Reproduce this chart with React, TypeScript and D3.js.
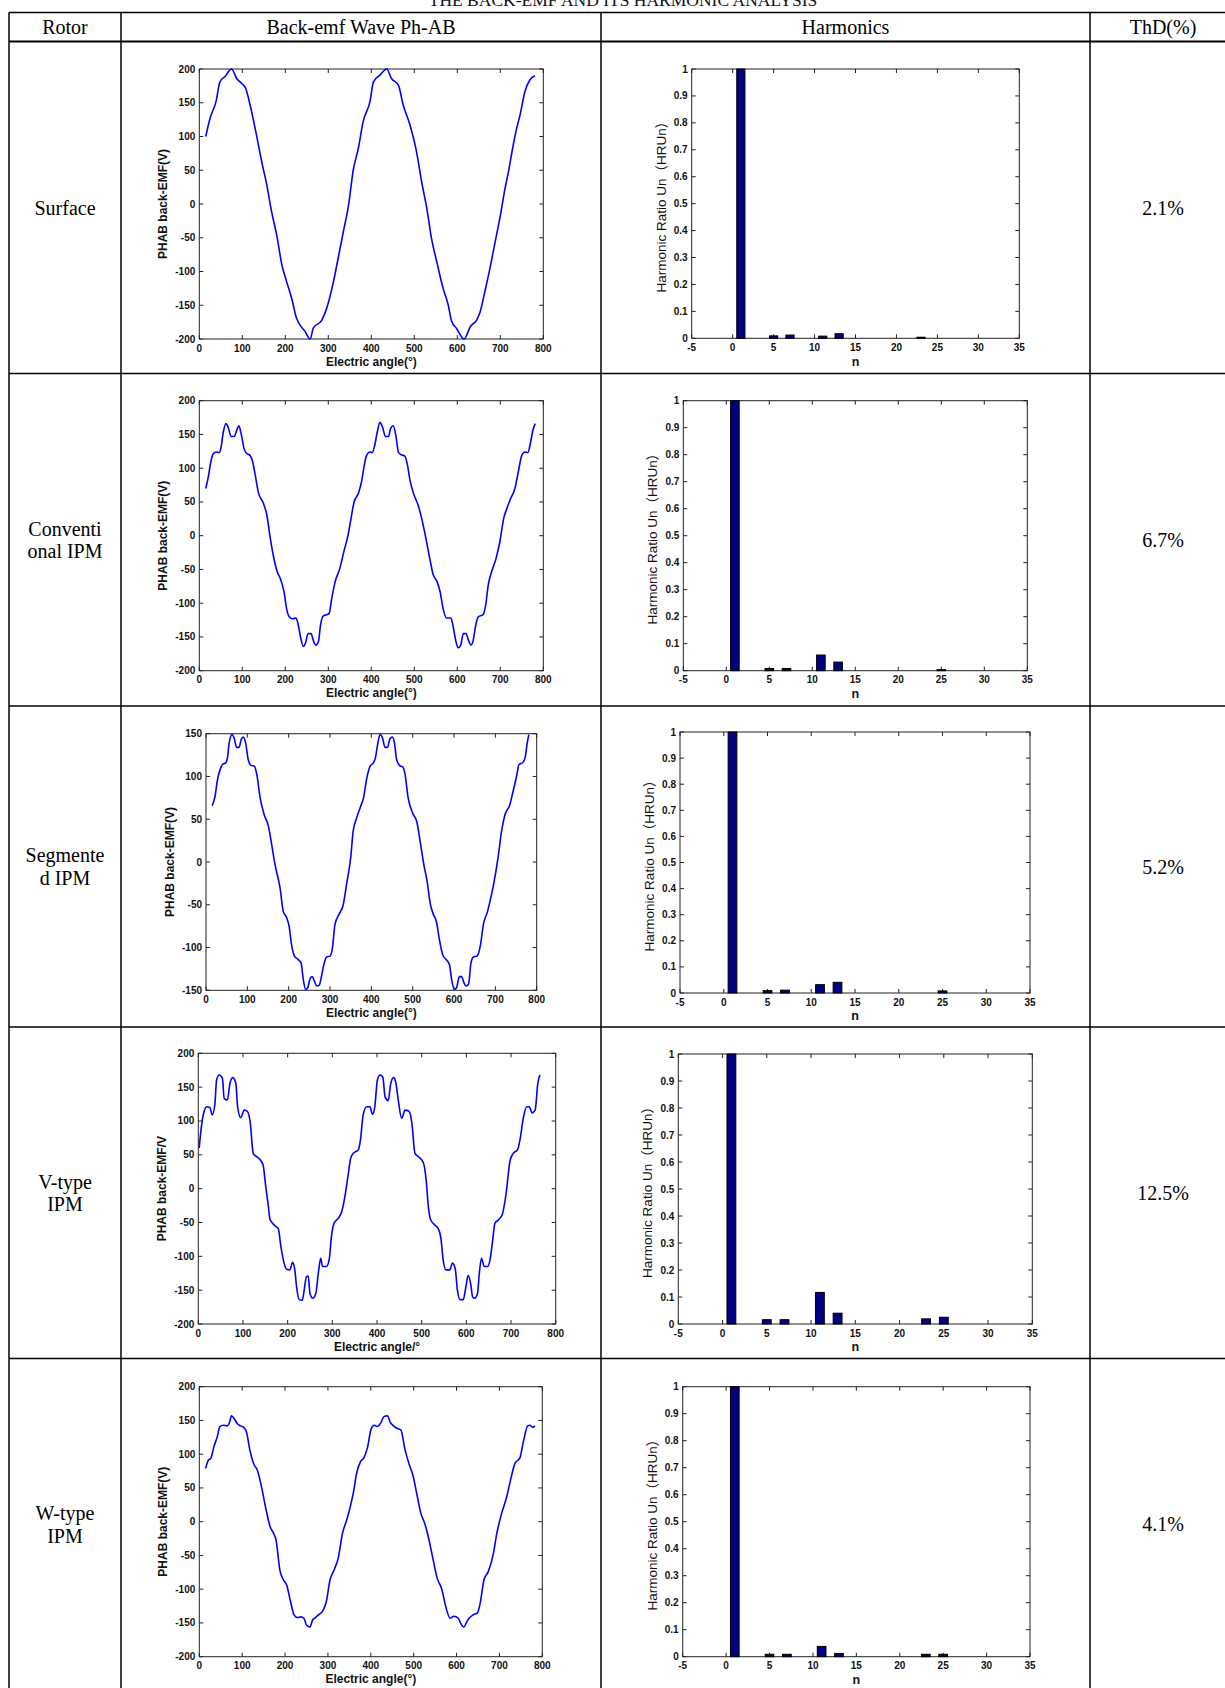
import React from "react";
import * as d3 from "d3";

// ---------- DATA ----------
const titleText = "THE BACK-EMF AND ITS HARMONIC ANALYSIS";
const headerLabels = ["Rotor", "Back-emf Wave Ph-AB", "Harmonics", "ThD(%)"];
const rotorLabels = [["Surface"], ["Conventi", "onal IPM"], ["Segmente", "d IPM"], ["V-type", "IPM"], ["W-type", "IPM"]];
const thdLabels = ["2.1%", "6.7%", "5.2%", "12.5%", "4.1%"];

const waveXTicks = [0, 100, 200, 300, 400, 500, 600, 700, 800];
const waveYTicks200 = [-200, -150, -100, -50, 0, 50, 100, 150, 200];
const waveYTicks150 = [-150, -100, -50, 0, 50, 100, 150];
const harmXTicks = [-5, 0, 5, 10, 15, 20, 25, 30, 35];
const harmYTicks = [0, 0.1, 0.2, 0.3, 0.4, 0.5, 0.6, 0.7, 0.8, 0.9, 1];
const harmOrders = [0, 1, 2, 3, 4, 5, 6, 7, 8, 9, 10, 11, 12, 13, 14, 15, 16, 17, 18, 19, 20, 21, 22, 23, 24, 25, 26, 27, 28, 29, 30];

const waveYLabels = ["PHAB back-EMF(V)", "PHAB back-EMF(V)", "PHAB back-EMF(V)", "PHAB back-EMF/V", "PHAB back-EMF(V)"];
const waveXLabels = ["Electric angle(°)", "Electric angle(°)", "Electric angle(°)", "Electric angle/°", "Electric angle(°)"];
const harmYLabel = "Harmonic Ratio Un（HRUn）";
const harmXLabel = "n";

const surfaceWave: [number, number][] = [[15,100],[25,127],[39,152],[48,181],[60,189],[75,200],[87,186],[98,179],[108,171],[118,147],[133,102],[145,63],[157,28],[168,-11],[180,-46],[192,-90],[203,-115],[215,-140],[226,-169],[234,-179],[245,-188],[258,-200],[265,-184],[285,-172],[296,-155],[312,-115],[323,-80],[335,-41],[347,-2],[358,50],[370,83],[381,122],[397,152],[405,181],[420,191],[436,200],[447,186],[463,176],[474,147],[490,117],[505,78],[517,33],[529,-6],[540,-51],[552,-85],[567,-125],[579,-150],[587,-174],[598,-184],[616,-200],[622,-194],[630,-182],[645,-172],[653,-160],[664,-130],[676,-95],[688,-56],[699,-21],[711,23],[719,48],[730,87],[738,112],[746,132],[757,166],[769,184],[781,190]];

const conventionalWave: [number, number][] = [[15,70],[21,87],[26,107],[33,122],[39,124],[46,123],[50,129],[56,154],[62,166],[67,161],[74,147],[81,147],[87,156],[92,163],[98,149],[104,129],[110,122],[118,119],[123,112],[130,90],[137,65],[149,48],[157,31],[164,1],[172,-29],[181,-53],[188,-63],[197,-83],[203,-108],[209,-120],[217,-123],[225,-122],[230,-132],[236,-152],[242,-164],[247,-159],[253,-145],[260,-145],[265,-155],[271,-162],[277,-157],[282,-132],[288,-119],[296,-117],[302,-115],[308,-93],[316,-68],[327,-48],[336,-24],[346,1],[353,26],[360,50],[370,63],[378,82],[383,102],[389,119],[397,124],[402,123],[408,134],[414,154],[420,168],[426,161],[433,147],[440,147],[445,159],[451,163],[457,149],[463,124],[469,120],[478,118],[484,105],[490,82],[498,63],[509,45],[517,26],[527,-4],[536,-34],[544,-58],[553,-68],[560,-83],[567,-108],[575,-122],[585,-122],[591,-137],[597,-157],[602,-166],[608,-162],[614,-145],[620,-145],[626,-155],[632,-162],[637,-155],[643,-132],[649,-120],[660,-117],[666,-103],[672,-73],[681,-51],[690,-34],[699,-9],[708,26],[715,40],[724,55],[734,70],[742,95],[750,119],[757,124],[764,123],[770,137],[775,154],[781,166]];

const segmentedWave: [number, number][] = [[15,66],[22,77],[27,94],[34,108],[40,114],[48,116],[52,122],[56,139],[63,149],[68,145],[74,134],[80,134],[85,143],[90,146],[96,139],[102,120],[109,113],[117,112],[123,102],[131,75],[141,55],[151,42],[159,20],[167,-3],[179,-30],[187,-58],[195,-65],[201,-75],[207,-97],[214,-110],[223,-114],[230,-118],[235,-136],[241,-149],[246,-147],[252,-136],[257,-134],[262,-139],[268,-145],[274,-144],[280,-132],[285,-120],[292,-111],[300,-110],[306,-100],[312,-73],[322,-61],[332,-50],[340,-26],[350,5],[356,36],[364,51],[374,65],[381,75],[389,98],[397,112],[405,116],[410,122],[415,137],[421,149],[427,145],[433,134],[439,134],[445,144],[451,146],[456,139],[461,120],[468,113],[476,111],[481,104],[489,75],[500,57],[510,47],[518,24],[527,-3],[535,-23],[543,-50],[550,-61],[558,-71],[564,-89],[573,-109],[581,-114],[589,-120],[594,-137],[601,-149],[606,-147],[613,-134],[618,-134],[624,-141],[629,-145],[635,-143],[641,-118],[647,-111],[656,-110],[664,-97],[671,-73],[681,-58],[687,-46],[697,-23],[707,7],[715,36],[723,55],[735,67],[743,83],[752,102],[757,114],[766,116],[772,122],[777,139],[781,149]];

const vtypeWave: [number, number][] = [[2,60],[7,92],[13,114],[19,121],[26,120],[31,109],[37,124],[41,161],[47,168],[54,163],[58,133],[65,131],[71,156],[77,164],[84,156],[88,121],[95,105],[103,116],[110,114],[116,99],[123,52],[131,47],[138,43],[145,35],[151,3],[157,-27],[160,-44],[166,-51],[174,-56],[179,-59],[185,-86],[192,-110],[198,-119],[205,-120],[211,-109],[216,-120],[220,-145],[226,-164],[233,-165],[237,-150],[242,-130],[246,-129],[250,-155],[256,-162],[263,-155],[269,-123],[274,-103],[278,-115],[287,-115],[293,-105],[298,-71],[304,-51],[313,-44],[321,-34],[328,-12],[336,23],[341,45],[348,53],[358,57],[363,72],[369,109],[377,121],[384,121],[390,110],[395,121],[401,161],[407,168],[413,165],[418,136],[425,130],[431,156],[437,164],[442,157],[448,129],[455,104],[463,116],[472,114],[478,97],[485,52],[495,46],[504,38],[510,13],[515,-27],[520,-46],[530,-54],[537,-59],[543,-73],[548,-105],[554,-120],[563,-120],[569,-110],[575,-118],[580,-150],[586,-164],[593,-164],[599,-145],[604,-128],[610,-142],[614,-160],[619,-162],[625,-155],[629,-125],[634,-103],[640,-115],[648,-115],[653,-105],[659,-76],[664,-51],[672,-46],[681,-37],[689,-7],[698,42],[705,52],[715,58],[720,72],[728,106],[735,121],[741,121],[747,112],[754,116],[760,156],[765,168]];

const wtypeWave: [number, number][] = [[15,79],[21,91],[27,94],[34,111],[42,126],[48,141],[56,143],[65,142],[71,148],[75,157],[82,152],[89,145],[96,142],[103,140],[110,133],[118,106],[128,84],[135,77],[145,52],[156,17],[165,-7],[173,-17],[179,-27],[188,-72],[196,-86],[204,-94],[212,-116],[221,-138],[229,-142],[237,-141],[244,-143],[250,-153],[258,-156],[264,-146],[271,-142],[280,-137],[288,-132],[296,-119],[305,-86],[314,-72],[324,-54],[334,-17],[344,3],[352,22],[359,42],[367,72],[376,89],[384,95],[392,109],[401,138],[408,143],[415,141],[423,146],[431,156],[439,157],[445,148],[453,142],[462,138],[470,136],[480,106],[490,84],[499,67],[507,42],[517,12],[526,-3],[534,-22],[544,-52],[555,-84],[565,-99],[577,-131],[585,-143],[594,-140],[604,-143],[610,-151],[617,-156],[624,-148],[631,-142],[639,-138],[649,-135],[655,-121],[664,-86],[674,-74],[686,-47],[694,-17],[705,12],[717,37],[726,62],[736,86],[748,95],[756,119],[766,142],[771,143],[778,140],[783,142]];

const surfaceHarm: [number, number][] = [[1,1],[5,0.009],[7,0.012],[11,0.008],[13,0.017],[23,0.004]];
const conventionalHarm: [number, number][] = [[1,1],[5,0.008],[7,0.008],[11,0.058],[13,0.032],[25,0.004]];
const segmentedHarm: [number, number][] = [[1,1],[5,0.009],[7,0.011],[11,0.032],[13,0.041],[25,0.008]];
const vtypeHarm: [number, number][] = [[1,1],[5,0.016],[7,0.016],[11,0.117],[13,0.04],[23,0.019],[25,0.025]];
const wtypeHarm: [number, number][] = [[1,1],[5,0.009],[7,0.009],[11,0.038],[13,0.012],[23,0.009],[25,0.009]];

const waves = [surfaceWave, conventionalWave, segmentedWave, vtypeWave, wtypeWave];
const waveTicks = [waveYTicks200, waveYTicks200, waveYTicks150, waveYTicks200, waveYTicks200];
const harms = [surfaceHarm, conventionalHarm, segmentedHarm, vtypeHarm, wtypeHarm];

// ---------- LAYOUT ----------
const W = 1225, H = 1688;
const colLines = [9, 121, 601, 1090];
const tableTop = 12.5, headerBottom = 41.5;
const rowBounds = [41.5, 373.5, 706, 1027, 1358.5, 1690];
const waveFrames = [
  { l: 199.3, r: 543.3, t: 69, b: 339 },
  { l: 199.3, r: 543.3, t: 400.7, b: 670.7 },
  { l: 206, r: 536.7, t: 733.7, b: 990.3 },
  { l: 198.3, r: 555.7, t: 1053.3, b: 1324 },
  { l: 199.3, r: 542.3, t: 1386.7, b: 1656.7 },
];
const harmFrames = [
  { l: 691.7, r: 1019.3, t: 69, b: 338.3 },
  { l: 683.3, r: 1027.3, t: 400.7, b: 670.7 },
  { l: 680, r: 1030, t: 732, b: 993 },
  { l: 678.3, r: 1032.3, t: 1054, b: 1324 },
  { l: 682.7, r: 1030, t: 1386.7, b: 1656.7 },
];

const SANS = "'Liberation Sans', Arial, Helvetica, 'Noto Sans CJK SC', sans-serif";
const SERIF = "'Liberation Serif', 'Times New Roman', Times, serif";
const TICK = 4;
const TICK_FS = 10;

type Frame = { l: number; r: number; t: number; b: number };

function Axes({ f, x, y, xt, yt, fmtY }: { f: Frame; x: any; y: any; xt: number[]; yt: number[]; fmtY: (v: number) => string }) {
  return (
    <g>
      {xt.map((v, i) => (
        <g key={"x" + i}>
          <line x1={x(v)} x2={x(v)} y1={f.b} y2={f.b - TICK} stroke="#222" strokeWidth={1} />
          <line x1={x(v)} x2={x(v)} y1={f.t} y2={f.t + TICK} stroke="#222" strokeWidth={1} />
          <text x={x(v)} y={f.b + 12.5} textAnchor="middle" fontFamily={SANS} fontWeight="bold" fontSize={TICK_FS} fill="#111">{v}</text>
        </g>
      ))}
      {yt.map((v, i) => (
        <g key={"y" + i}>
          <line x1={f.l} x2={f.l + TICK} y1={y(v)} y2={y(v)} stroke="#222" strokeWidth={1} />
          <line x1={f.r} x2={f.r - TICK} y1={y(v)} y2={y(v)} stroke="#222" strokeWidth={1} />
          <text x={f.l - 4} y={y(v) + 3.5} textAnchor="end" fontFamily={SANS} fontWeight="bold" fontSize={TICK_FS} fill="#111">{fmtY(v)}</text>
        </g>
      ))}
      <rect x={f.l} y={f.t} width={f.r - f.l} height={f.b - f.t} fill="none" stroke="#222" strokeWidth={1} />
    </g>
  );
}

function WavePlot({ f, data, yTicks, yLabel, xLabel }: { f: Frame; data: [number, number][]; yTicks: number[]; yLabel: string; xLabel: string }) {
  const x = d3.scaleLinear().domain([waveXTicks[0], waveXTicks[waveXTicks.length - 1]]).range([f.l, f.r]);
  const y = d3.scaleLinear().domain([yTicks[0], yTicks[yTicks.length - 1]]).range([f.b, f.t]);
  const line = d3.line<[number, number]>().x((d) => x(d[0])).y((d) => y(d[1])).curve(d3.curveMonotoneX);
  const cx = (f.l + f.r) / 2, cy = (f.t + f.b) / 2;
  return (
    <g>
      <Axes f={f} x={x} y={y} xt={waveXTicks} yt={yTicks} fmtY={(v) => String(v)} />
      <path d={line(data) || ""} fill="none" stroke="#0000ff" strokeWidth={1.6} strokeLinejoin="round" />
      <text x={cx} y={f.b + 22.5} dominantBaseline="central" textAnchor="middle" fontFamily={SANS} fontWeight="bold" fontSize={12} fill="#111">{xLabel}</text>
      <text transform={`translate(${f.l - 36},${cy}) rotate(-90)`} dominantBaseline="central" textAnchor="middle" fontFamily={SANS} fontWeight="bold" fontSize={12} fill="#111">{yLabel}</text>
    </g>
  );
}

function HarmPlot({ f, data }: { f: Frame; data: [number, number][] }) {
  const x = d3.scaleLinear().domain([harmXTicks[0], harmXTicks[harmXTicks.length - 1]]).range([f.l, f.r]);
  const y = d3.scaleLinear().domain([harmYTicks[0], harmYTicks[harmYTicks.length - 1]]).range([f.b, f.t]);
  const lookup = new Map<number, number>(data.map((d) => [d[0], d[1]]));
  const bars = harmOrders.map((n) => ({ n, v: lookup.get(n) ?? 0 }));
  const cx = (f.l + f.r) / 2, cy = (f.t + f.b) / 2;
  return (
    <g>
      <Axes f={f} x={x} y={y} xt={harmXTicks} yt={harmYTicks} fmtY={(v) => String(+v.toFixed(1))} />
      {bars.map((d) => (
        <rect key={d.n} x={x(d.n - 0.5)} y={y(d.v)} width={x(d.n + 0.5) - x(d.n - 0.5)} height={Math.max(0, y(0) - y(d.v))}
          fill="#000080" stroke="#000" strokeWidth={1} />
      ))}
      <text x={cx} y={f.b + 23.4} dominantBaseline="central" textAnchor="middle" fontFamily={SANS} fontWeight="bold" fontSize={12.5} fill="#111">{harmXLabel}</text>
      <text transform={`translate(${f.l - 30.5},${cy}) rotate(-90)`} dominantBaseline="central" textAnchor="middle" fontFamily={SANS} fontSize={13.5} fill="#111">{harmYLabel}</text>
    </g>
  );
}

export default function App() {
  const colCenters = [(colLines[0] + colLines[1]) / 2, (colLines[1] + colLines[2]) / 2, (colLines[2] + colLines[3]) / 2, 1163];
  return (
    <svg width={W} height={H} viewBox={`0 0 ${W} ${H}`} style={{ position: "absolute", left: 0, top: 0, background: "#fff" }}>
      <rect x={0} y={0} width={W} height={H} fill="#fff" />
      <text x={623} y={5.5} textAnchor="middle" fontFamily={SERIF} fontSize={17.5} fill="#111">{titleText}</text>
      {/* table lines */}
      <line x1={colLines[0]} x2={W} y1={tableTop} y2={tableTop} stroke="#000" strokeWidth={1.5} />
      <line x1={colLines[0]} x2={W} y1={headerBottom} y2={headerBottom} stroke="#000" strokeWidth={2} />
      {rowBounds.slice(1, 5).map((yv, i) => (
        <line key={"r" + i} x1={colLines[0]} x2={W} y1={yv} y2={yv} stroke="#000" strokeWidth={1.5} />
      ))}
      {colLines.map((xv, i) => (
        <line key={"c" + i} x1={xv} x2={xv} y1={tableTop} y2={H} stroke="#000" strokeWidth={1.5} />
      ))}
      {headerLabels.map((h, i) => (
        <text key={"h" + i} x={colCenters[i]} y={34} textAnchor="middle" fontFamily={SERIF} fontSize={20} fill="#000">{h}</text>
      ))}
      {rotorLabels.map((lines, i) => {
        const cy = (rowBounds[i] + rowBounds[i + 1]) / 2;
        const lh = 22.5;
        return (
          <g key={"rl" + i}>
            {lines.map((ln, j) => (
              <text key={j} x={colCenters[0]} y={cy + 7 + (j - (lines.length - 1) / 2) * lh} textAnchor="middle" fontFamily={SERIF} fontSize={20} fill="#000">{ln}</text>
            ))}
            <text x={colCenters[3]} y={cy + 7} textAnchor="middle" fontFamily={SERIF} fontSize={20} fill="#000">{thdLabels[i]}</text>
          </g>
        );
      })}
      {waves.map((w, i) => (
        <WavePlot key={"w" + i} f={waveFrames[i]} data={w} yTicks={waveTicks[i]} yLabel={waveYLabels[i]} xLabel={waveXLabels[i]} />
      ))}
      {harms.map((h, i) => (
        <HarmPlot key={"hp" + i} f={harmFrames[i]} data={h} />
      ))}
    </svg>
  );
}
